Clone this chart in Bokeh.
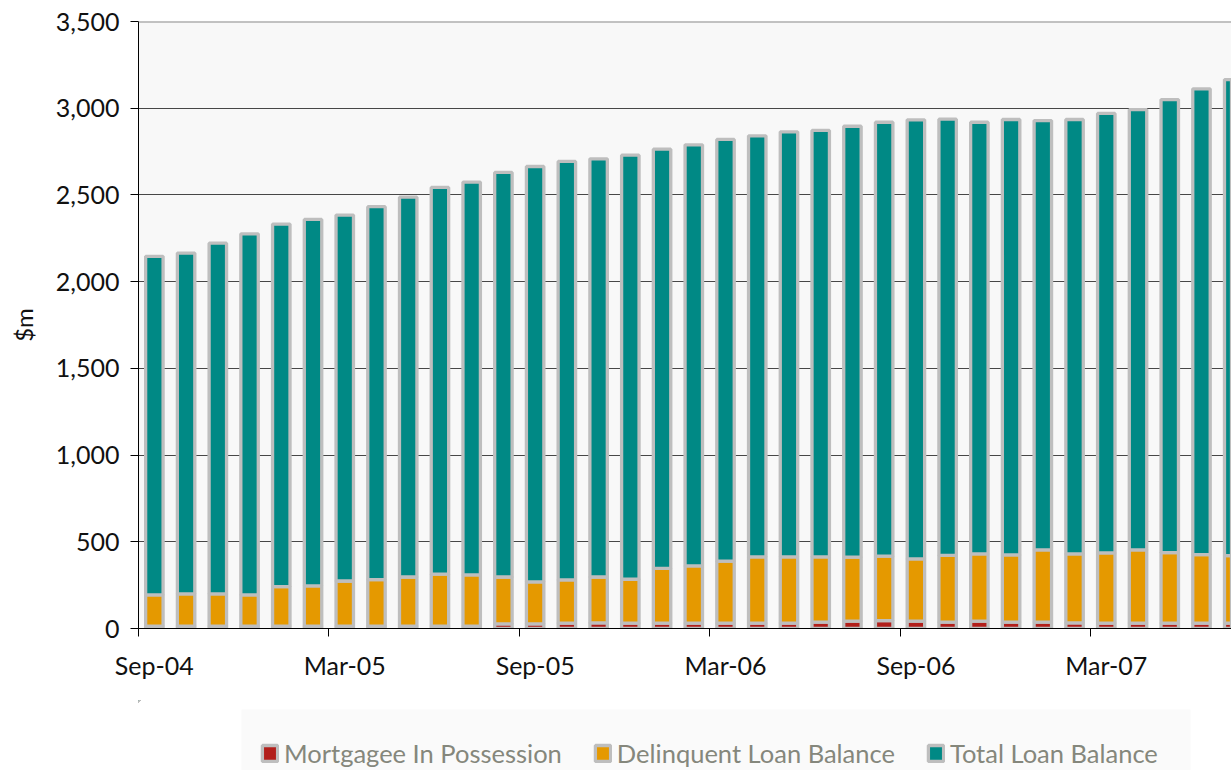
from bokeh.plotting import figure
from bokeh.layouts import column
from bokeh.models import (Range1d, FixedTicker, NumeralTickFormatter, LinearAxis,
                          Span, Legend, LegendItem, ColumnDataSource, BoxAnnotation)
from bokeh.embed import file_html
from bokeh.resources import INLINE

# ---------------- data ----------------
months = ["Sep-04", "Oct-04", "Nov-04", "Dec-04", "Jan-05", "Feb-05", "Mar-05",
          "Apr-05", "May-05", "Jun-05", "Jul-05", "Aug-05", "Sep-05", "Oct-05",
          "Nov-05", "Dec-05", "Jan-06", "Feb-06", "Mar-06", "Apr-06", "May-06",
          "Jun-06", "Jul-06", "Aug-06", "Sep-06", "Oct-06", "Nov-06", "Dec-06",
          "Jan-07", "Feb-07", "Mar-07", "Apr-07", "May-07", "Jun-07", "Jul-07"]

mortgagee_in_possession = [14, 14, 14, 14, 14, 14, 14, 14, 14, 14, 14, 27, 27, 31, 33,
                           31, 31, 31, 31, 31, 31, 37, 43, 45, 43, 37, 43, 37, 37, 33,
                           31, 31, 31, 31, 31]

delinquent_loan_balance = [180, 186, 186, 180, 228, 232, 260, 268, 283, 299, 295, 270,
                           242, 249, 264, 253, 316, 330, 357, 382, 382, 376, 368, 372,
                           358, 385, 387, 387, 416, 397, 405, 422, 407, 395, 389]

total_loan_balance = [1952, 1965, 2022, 2082, 2090, 2113, 2110, 2150, 2190, 2230, 2265,
                      2333, 2395, 2413, 2411, 2445, 2417, 2428, 2432, 2428, 2451, 2459,
                      2485, 2502, 2532, 2515, 2489, 2511, 2476, 2505, 2534, 2539, 2612,
                      2686, 2745]

series_names = ["Mortgagee In Possession", "Delinquent Loan Balance", "Total Loan Balance"]
tick_labels = ["Sep-04", "Mar-05", "Sep-05", "Mar-06", "Sep-06", "Mar-07"]
y_ticks = [0, 500, 1000, 1500, 2000, 2500, 3000, 3500]

# ---------------- styling ----------------
FONT = "Lato"
RED = "#B21F1B"
ORANGE = "#E59900"
TEAL = "#008985"
COLORS = [RED, ORANGE, TEAL]
EDGE = "#BEBEBE"
TEXT = "#111111"

W = 1231
H_CHART, H_LEGEND = 700, 70
FRAME_LEFT = 138

x = list(range(len(months)))
src = ColumnDataSource(dict(x=x, month=months,
                            mip=mortgagee_in_possession,
                            dlb=delinquent_loan_balance,
                            tlb=total_loan_balance))
stackers = ["mip", "dlb", "tlb"]

p = figure(width=W, height=H_CHART, output_backend="svg", toolbar_location=None,
           x_range=Range1d(-0.5, 33.946), y_range=Range1d(0, 3500),
           min_border_left=FRAME_LEFT, min_border_right=0, min_border_top=21,
           min_border_bottom=72,
           background_fill_color="#f8f8f8", border_fill_color="white",
           outline_line_color=None)

rs = p.vbar_stack(stackers, x="x", width=0.55, source=src,
                  fill_color=COLORS, line_color=EDGE, line_width=3.3)

# grid
p.xgrid.visible = False
p.ygrid.ticker = FixedTicker(ticks=y_ticks)
p.ygrid.grid_line_color = "#474747"
p.ygrid.grid_line_width = 1

p.add_layout(Span(location=3500, dimension="width", line_color="#8a8a8a", line_width=2))

# y axis
ya = p.yaxis[0]
ya.ticker = FixedTicker(ticks=y_ticks)
ya.formatter = NumeralTickFormatter(format="0,0")
ya.major_tick_out = 8
ya.major_tick_in = 0
ya.minor_tick_line_color = None
ya.axis_line_color = "black"
ya.major_tick_line_color = "black"
ya.major_label_standoff = 11
ya.major_label_text_font = FONT
ya.major_label_text_font_size = "25px"
ya.major_label_text_color = TEXT
ya.axis_label = "$m"
ya.axis_label_standoff = 15
ya.axis_label_text_font = FONT
ya.axis_label_text_font_size = "24px"
ya.axis_label_text_font_style = "normal"
ya.axis_label_text_color = TEXT

# x axis A: tick marks at category boundaries (labels not drawn)
xa = p.xaxis[0]
xa.ticker = FixedTicker(ticks=[i * 6 - 0.5 for i in range(len(tick_labels))])
xa.major_tick_out = 8
xa.major_tick_in = 0
xa.minor_tick_line_color = None
xa.axis_line_color = "black"
xa.major_tick_line_color = "black"
xa.major_label_text_font_size = "1px"
xa.major_label_text_color = None
xa.major_label_standoff = 0

# x axis B: labels centred under the bars
xb = LinearAxis(ticker=FixedTicker(ticks=[i * 6 for i in range(len(tick_labels))]),
                major_label_overrides={i * 6: lab for i, lab in enumerate(tick_labels)},
                major_tick_out=0, major_tick_in=0, axis_line_color=None,
                major_tick_line_color=None, minor_tick_line_color=None,
                major_label_standoff=13, major_label_text_font=FONT,
                major_label_text_font_size="25px", major_label_text_color=TEXT)
p.add_layout(xb, "below")

# ---------------- legend strip (own figure; its frame lines up with the chart's) ----
# Strip coordinates: x = page pixel + OFF, y = -(pixels below the strip top) - OFF.
# The offset keeps the strip's view far away from the bar data it shares.
OFF = 100000
p2 = figure(width=W, height=H_LEGEND, output_backend="svg", toolbar_location=None,
            x_range=Range1d(OFF + FRAME_LEFT, OFF + W),
            y_range=Range1d(-OFF - H_LEGEND, -OFF),
            x_axis_location=None, y_axis_location=None,
            min_border_left=FRAME_LEFT, min_border_right=0, min_border_top=0,
            min_border_bottom=0, background_fill_color="white",
            border_fill_color="white", outline_line_color=None)
p2.xgrid.visible = False
p2.ygrid.visible = False

# legend background box
p2.add_layout(BoxAnnotation(left=OFF + 241, right=OFF + 1190,
                            bottom=-OFF - H_LEGEND, top=-OFF - 9,
                            fill_color="#fafafa", fill_alpha=1, line_color=None,
                            level="underlay"))

# the same stacked series, lying outside this strip's visible ranges: they only
# supply the legend swatches
swatches = p2.vbar_stack(stackers, x="x", width=0.55, source=src,
                         fill_color=COLORS, line_color=EDGE, line_width=3.3)

items = [LegendItem(label=name, renderers=[r]) for name, r in zip(series_names, swatches)]
legend = Legend(items=items, orientation="horizontal", location=(122, 2),
                glyph_width=19, glyph_height=20, label_standoff=5, spacing=31,
                padding=0, margin=0,
                background_fill_alpha=0, border_line_color=None,
                label_text_font=FONT, label_text_font_size="25.5px",
                label_text_color="#85877c")
p2.add_layout(legend, "center")

layout = column(p, p2, spacing=0)

open("out.html", "w").write(file_html(layout, INLINE))
